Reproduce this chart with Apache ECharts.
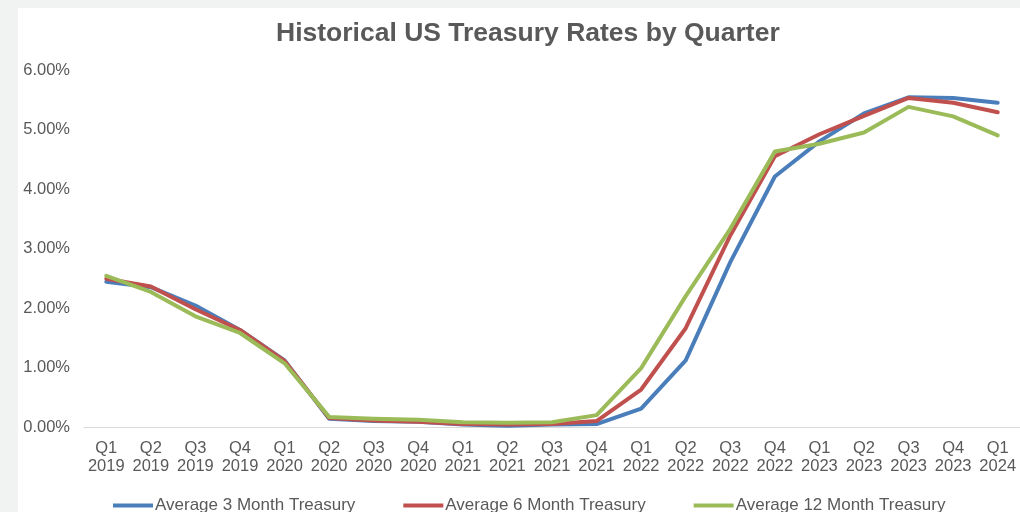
<!DOCTYPE html>
<html>
<head>
<meta charset="utf-8">
<script src="https://cdn.jsdelivr.net/npm/echarts@6/dist/echarts.min.js"></script>
<style>
  html, body { margin: 0; padding: 0; width: 1020px; height: 512px; overflow: hidden; background: #f1f2f2; }
  #chart { position: absolute; left: 18px; top: 8px; width: 1002px; height: 504px; background: #ffffff; }
</style>
</head>
<body>
<div id="chart"></div>
<script>
// Quarterly averages of US Treasury bill yields, in percent
const quarters = [
  'Q1\n2019', 'Q2\n2019', 'Q3\n2019', 'Q4\n2019',
  'Q1\n2020', 'Q2\n2020', 'Q3\n2020', 'Q4\n2020',
  'Q1\n2021', 'Q2\n2021', 'Q3\n2021', 'Q4\n2021',
  'Q1\n2022', 'Q2\n2022', 'Q3\n2022', 'Q4\n2022',
  'Q1\n2023', 'Q2\n2023', 'Q3\n2023', 'Q4\n2023',
  'Q1\n2024'
];
const avg3Month = [2.44, 2.35, 2.04, 1.63, 1.12, 0.14, 0.10, 0.09, 0.04, 0.02, 0.04, 0.05,
                   0.31, 1.12, 2.77, 4.21, 4.80, 5.27, 5.54, 5.53, 5.45];
const avg6Month = [2.49, 2.36, 1.98, 1.63, 1.11, 0.15, 0.11, 0.09, 0.05, 0.04, 0.05, 0.10,
                   0.63, 1.66, 3.22, 4.55, 4.92, 5.23, 5.53, 5.45, 5.29];
const avg12Month = [2.54, 2.27, 1.86, 1.58, 1.07, 0.17, 0.14, 0.12, 0.08, 0.07, 0.08, 0.20,
                    0.99, 2.20, 3.33, 4.63, 4.76, 4.95, 5.38, 5.22, 4.90];
const seriesNames = ['Average 3 Month Treasury', 'Average 6 Month Treasury', 'Average 12 Month Treasury'];
const seriesColors = ['#4a7ebb', '#c0504d', '#9bbb59'];

const textColor = '#595959';
const font = 'Arial, "Liberation Sans", sans-serif';

const chart = echarts.init(document.getElementById('chart'), null, { renderer: 'canvas' });

const makeLine = (name, data, color) => ({
  name: name,
  type: 'line',
  data: data,
  symbol: 'none',
  smooth: false,
  color: color,
  lineStyle: { color: color, width: 4, join: 'round', cap: 'round' },
  emphasis: { disabled: true }
});

chart.setOption({
  animation: false,
  title: {
    text: 'Historical US Treasury Rates by Quarter',
    left: 253,
    top: 7,
    textStyle: { color: textColor, fontFamily: font, fontSize: 26.5, fontWeight: 'bold' }
  },
  legend: {
    data: seriesNames,
    left: 90,
    top: 484,
    icon: 'rect',
    itemWidth: 40,
    itemHeight: 4,
    itemGap: 48,
    textStyle: { color: textColor, fontFamily: font, fontSize: 17, padding: [0, 0, 0, -3] }
  },
  grid: { left: 66, right: -5, top: 62, bottom: 85, containLabel: false },
  xAxis: {
    type: 'category',
    data: quarters,
    boundaryGap: true,
    axisLine: { show: true, lineStyle: { color: '#d9d9d9', width: 1 } },
    axisTick: { show: false },
    axisLabel: {
      color: textColor, fontFamily: font, fontSize: 16.5, lineHeight: 18,
      margin: 12, interval: 0, align: 'center'
    },
    splitLine: { show: false }
  },
  yAxis: {
    type: 'value',
    min: 0,
    max: 6,
    interval: 1,
    axisLine: { show: false },
    axisTick: { show: false },
    splitLine: { show: false },
    axisLabel: {
      color: textColor, fontFamily: font, fontSize: 16.5, margin: 14,
      formatter: v => v.toFixed(2) + '%'
    }
  },
  series: [
    makeLine(seriesNames[0], avg3Month, seriesColors[0]),
    makeLine(seriesNames[1], avg6Month, seriesColors[1]),
    makeLine(seriesNames[2], avg12Month, seriesColors[2])
  ]
});
</script>
</body>
</html>
